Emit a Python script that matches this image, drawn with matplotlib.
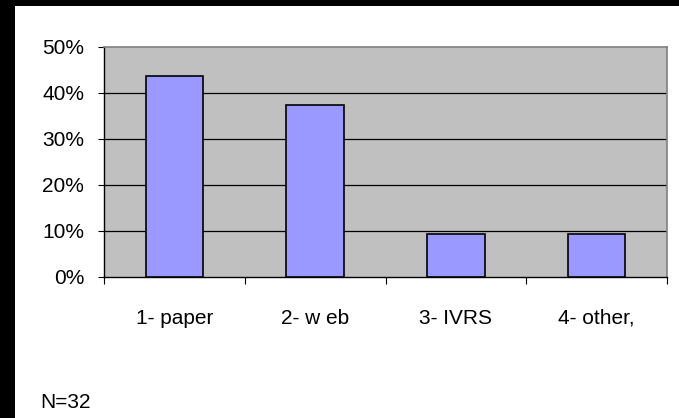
import numpy as np
import matplotlib.pyplot as plt
from matplotlib.patches import Rectangle

plt.rcParams['font.family'] = ['Liberation Sans', 'DejaVu Sans']

categories = ["1- paper", "2- w eb", "3- IVRS", "4- other,"]
shares = [43.75, 37.5, 9.375, 9.375]  # percent, N=32
yticks = [0, 10, 20, 30, 40, 50]

fig = plt.figure(figsize=(6.79, 4.18), dpi=100)
fig.patch.set_facecolor("white")

# black frame strips on top and left edge
fig.patches.append(Rectangle((0, 0), 15 / 679, 1, transform=fig.transFigure,
                             facecolor="black", edgecolor="none", zorder=0))
fig.patches.append(Rectangle((0, 1 - 6 / 418), 1, 6 / 418, transform=fig.transFigure,
                             facecolor="black", edgecolor="none", zorder=0))

ax = fig.add_axes([104 / 679, 1 - 277 / 418, (667 - 104) / 679, (277 - 47) / 418])
ax.set_facecolor("#C0C0C0")

x = np.arange(len(categories))
ax.bar(x, shares, width=0.41, color="#9999FF", edgecolor="black", linewidth=1.2, zorder=3)

ax.set_xlim(-0.5, len(categories) - 0.5)
ax.set_ylim(0, 50)
ax.set_yticks(yticks)
ax.set_yticklabels(["{}%".format(v) for v in yticks])
for v in yticks[1:-1]:
    ax.axhline(v, color="black", linewidth=0.9, zorder=1)

ax.set_xticks(np.arange(len(categories) + 1) - 0.5, minor=False)
ax.set_xticklabels([])
ax.set_xticks(x, minor=True)
ax.set_xticklabels(categories, minor=True)
ax.tick_params(axis="x", which="minor", length=0, pad=23, labelsize=15)
ax.tick_params(axis="x", which="major", length=5, direction="out", color="black")
ax.tick_params(axis="y", length=4.3, direction="out", color="black", labelsize=15, pad=10)

for side in ["top", "right"]:
    ax.spines[side].set_color("#808080")
    ax.spines[side].set_linewidth(1.2)
for side in ["left", "bottom"]:
    ax.spines[side].set_color("black")
    ax.spines[side].set_linewidth(1.0)

fig.text(40 / 679, 1 - 408 / 418, "N=32", fontsize=15, va="baseline", ha="left")

plt.savefig("out.png", dpi=100)
